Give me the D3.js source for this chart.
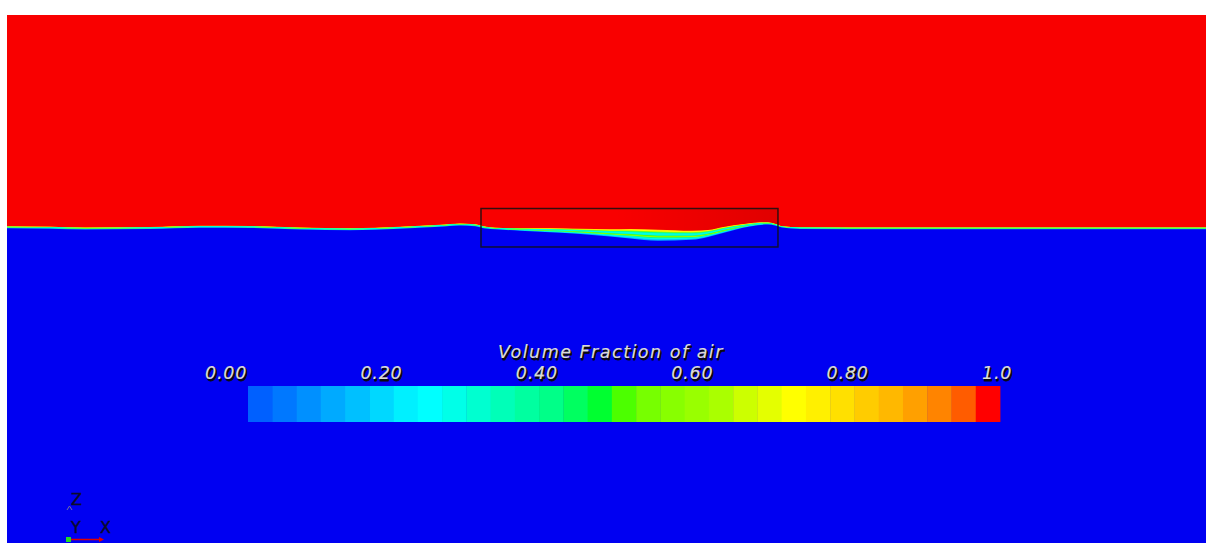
<!DOCTYPE html>
<html>
<head>
<meta charset="utf-8">
<script src="https://cdn.jsdelivr.net/npm/d3@7"></script>
<style>
  html, body { margin: 0; padding: 0; background: #fff; }
  svg { display: block; }
  .lbl { font-family: "DejaVu Sans", sans-serif; font-style: italic; }
</style>
</head>
<body>
<div id="chart"></div>
<script>
// free surface: x along tank (m), top and bottom of the mixed layer (m)
const surfX   = [0, 0.430, 0.781, 1.431, 1.932, 2.432, 2.932, 3.433, 3.933, 4.333, 4.534, 4.684,
                 4.784, 4.884, 5.134, 5.434, 5.735, 6.035, 6.235, 6.515, 6.855, 7.016, 7.186,
                 7.356, 7.516, 7.616, 7.686, 7.756, 7.936, 8.937, 12.0];
const surfTop = [0.010, 0.006, -0.002, 0.003, 0.015, 0.013, -0.002, -0.009, 0.005, 0.025, 0.038, 0.031,
                 0.008, -0.004, -0.009, -0.010, -0.015, -0.020, -0.017, -0.025, -0.035, -0.027, 0.006,
                 0.030, 0.048, 0.050, 0.035, 0.011, 0.001, -0.001, -0.001];
const surfBot = [-0.010, -0.014, -0.022, -0.017, -0.005, -0.007, -0.022, -0.029, -0.015, 0.005, 0.018, 0.011,
                 -0.012, -0.020, -0.034, -0.050, -0.067, -0.092, -0.112, -0.134, -0.125, -0.097, -0.052,
                 -0.007, 0.021, 0.028, 0.017, -0.003, -0.017, -0.019, -0.019];
// air fraction through the mixed layer, top to bottom
const bandValues = [0.8, 0.72, 0.55, 0.38, 0.28, 0.26, 0.3, 0.5, 0.62, 0.4, 0.26, 0.18, 0.1];

// colour table of the scalar bar (31 steps)
const barColors = ["#0060ff", "#0078ff", "#0090ff", "#00aaff", "#00c0ff", "#00d8ff", "#00f0ff", "#00ffff",
                   "#00ffe8", "#00ffd0", "#00ffb8", "#00ffa0", "#00ff88", "#00ff60", "#00ff30", "#4cff00",
                   "#77ff00", "#88ff00", "#99ff00", "#aaff00", "#ccff00", "#e4ff00", "#ffff00", "#fff000",
                   "#ffe000", "#ffcc00", "#ffb800", "#ffa000", "#ff8400", "#ff5c00", "#ff0000"];
const tickValues = [0, 0.2, 0.4, 0.6, 0.8, 1.0];
const tickLabels = ["0.00", "0.20", "0.40", "0.60", "0.80", "1.0"];
const barTitle = "Volume Fraction of air";

// zoom box (m)
const boxX = [4.744, 7.716];
const boxZ = [-0.197, 0.188];

const width = 1206, height = 543;
const svg = d3.select('#chart').append('svg')
    .attr('width', width)
    .attr('height', height);

const x = d3.scaleLinear().domain([0, 12]).range([7, 1206]);
const y = d3.scaleLinear().domain([-3.16, 2.125]).range([543, 15]);
const colour = d3.scaleQuantize().domain([0, 1]).range(barColors);

const defs = svg.append('defs');
const grad = defs.append('linearGradient').attr('id', 'shade');
grad.append('stop').attr('offset', '0%').attr('stop-color', '#000').attr('stop-opacity', 0);
grad.append('stop').attr('offset', '45%').attr('stop-color', '#000').attr('stop-opacity', 0);
grad.append('stop').attr('offset', '100%').attr('stop-color', '#000').attr('stop-opacity', 0.1);

// air
svg.append('rect')
    .attr('x', x(0)).attr('y', y(2.125))
    .attr('width', x(12) - x(0)).attr('height', y(-3.16) - y(2.125))
    .attr('fill', '#f90000');

svg.append('rect')
    .attr('x', x(boxX[0])).attr('y', y(boxZ[1]))
    .attr('width', x(boxX[1]) - x(boxX[0])).attr('height', y(boxZ[0]) - y(boxZ[1]))
    .attr('fill', 'url(#shade)');

const pts = surfX.map((d, i) => ({ x: d, top: surfTop[i], bot: surfBot[i] }));

// mixed layer drawn as stacked areas, then water
bandValues.forEach((v, k) => {
    const f = k / bandValues.length;
    const area = d3.area()
        .curve(d3.curveMonotoneX)
        .x(d => x(d.x))
        .y0(y(-3.16))
        .y1(d => y(d.top + (d.bot - d.top) * f));
    svg.append('path').datum(pts).attr('d', area).attr('fill', colour(v));
});

const water = d3.area()
    .curve(d3.curveMonotoneX)
    .x(d => x(d.x))
    .y0(y(-3.16))
    .y1(d => y(d.bot));
svg.append('path').datum(pts).attr('d', water).attr('fill', '#0000f2');

svg.append('rect')
    .attr('x', x(boxX[0])).attr('y', y(boxZ[1]))
    .attr('width', x(boxX[1]) - x(boxX[0])).attr('height', y(boxZ[0]) - y(boxZ[1]))
    .attr('fill', 'none').attr('stroke', '#111').attr('stroke-opacity', 0.85).attr('stroke-width', 1.5);

// scalar bar
const barX = d3.scaleLinear().domain([0, barColors.length]).range([248, 1000]);
svg.append('g').selectAll('rect')
    .data(barColors)
    .enter()
    .append('rect')
    .attr('x', (d, i) => barX(i))
    .attr('y', 386)
    .attr('width', (d, i) => barX(i + 1) - barX(i) + 0.4)
    .attr('height', 36)
    .attr('fill', d => d);

const labelX = d3.scaleLinear().domain([0, 1]).range([205, 982]);

function shadowText(tx, ty, str, size, spacing, anchor) {
    const g = svg.append('g').attr('class', 'lbl')
        .attr('font-size', size).attr('letter-spacing', spacing).attr('text-anchor', anchor);
    g.append('text').attr('x', tx + 1.5).attr('y', ty + 1.5).attr('fill', '#0a0a0a')
        .attr('stroke', '#0a0a0a').attr('stroke-width', 0.8).attr('stroke-linejoin', 'round').text(str);
    g.append('text').attr('x', tx).attr('y', ty).attr('fill', '#dcdcd4')
        .attr('stroke', '#dcdcd4').attr('stroke-width', 0.2).text(str);
}

shadowText(611, 358, barTitle, 17.5, 1.5, 'middle');
tickValues.forEach((v, i) => shadowText(labelX(v), 379, tickLabels[i], 17.5, 0.8, 'start'));

// orientation triad
const triad = svg.append('g').attr('font-family', 'DejaVu Sans, sans-serif').attr('fill', '#0c0c28')
    .attr('stroke', '#0c0c28').attr('stroke-width', 0.4);
triad.append('text').attr('x', 71).attr('y', 504.5).attr('font-size', 16).text('Z');
triad.append('text').attr('x', 71).attr('y', 532.5).attr('font-size', 16).text('Y');
triad.append('text').attr('x', 100).attr('y', 532.5).attr('font-size', 16).text('X');
triad.append('line').attr('x1', 69).attr('y1', 539.5).attr('x2', 100).attr('y2', 539.5)
    .attr('stroke', '#e00000').attr('stroke-width', 1.5);
triad.append('path').attr('d', 'M99,537 L104,539.5 L99,542 Z').attr('fill', '#e00000').attr('stroke', 'none');
triad.append('rect').attr('x', 66).attr('y', 537).attr('width', 5).attr('height', 5).attr('fill', '#22dd22').attr('stroke', 'none');
triad.append('path').attr('d', 'M67,510 L69.5,506 L72,510').attr('fill', 'none').attr('stroke', '#7070a0').attr('stroke-width', 1);
</script>
</body>
</html>
